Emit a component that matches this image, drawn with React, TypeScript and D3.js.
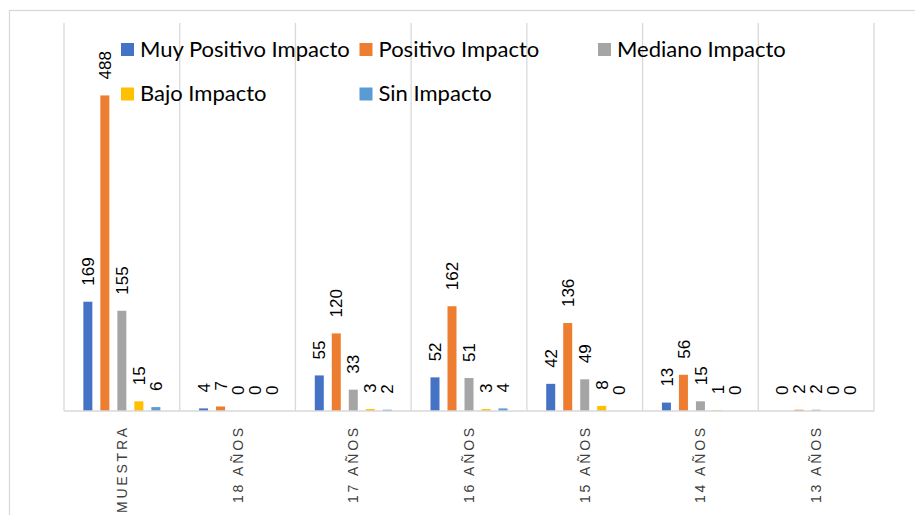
import React from "react";
import * as d3 from "d3";

const categories = ["MUESTRA", "18 AÑOS", "17 AÑOS", "16 AÑOS", "15 AÑOS", "14 AÑOS", "13 AÑOS"];
const seriesNames = ["Muy Positivo Impacto", "Positivo Impacto", "Mediano Impacto", "Bajo Impacto", "Sin Impacto"];
const seriesColors = ["#4472C4", "#ED7D31", "#A5A5A5", "#FFC000", "#5B9BD5"];
const muyPositivo = [169, 4, 55, 52, 42, 13, 0];
const positivo = [488, 7, 120, 162, 136, 56, 2];
const mediano = [155, 0, 33, 51, 49, 15, 2];
const bajo = [15, 0, 3, 3, 8, 1, 0];
const sinImpacto = [6, 0, 2, 4, 0, 0, 0];
const seriesValues = [muyPositivo, positivo, mediano, bajo, sinImpacto];

const W = 915;
const H = 515;
const plotLeft = 64;
const plotRight = 874;
const plotTop = 23;
const plotBottom = 411;
const grid = "#d9d9d9";

export default function App() {
  const x0 = d3.scaleBand<string>().domain(categories).range([plotLeft, plotRight]).padding(0);
  const groupW = 85;
  const x1 = d3
    .scaleBand<string>()
    .domain(seriesNames)
    .range([0, groupW])
    .paddingInner(8 / 17)
    .paddingOuter(4 / 17);
  const y = d3.scaleLinear().domain([0, 600]).range([plotBottom, plotTop]);

  const legendItems = seriesNames.map((name, i) => {
    const col = i < 3 ? i : i - 3;
    const row = i < 3 ? 0 : 1;
    return { name, color: seriesColors[i], x: 121 + col * 238.5, y: 43 + row * 44.5 };
  });

  return (
    <svg width={W} height={H} style={{ position: "absolute", left: 0, top: 0, background: "#fff" }}>
      <rect x={9.5} y={10.5} width={1000} height={1000} fill="#fff" stroke={grid} strokeWidth={1.3} />
      {/* vertical gridlines */}
      {categories.map((c) => (
        <line key={"g" + c} x1={x0(c)!} x2={x0(c)!} y1={plotTop} y2={plotBottom} stroke={grid} strokeWidth={1.3} />
      ))}
      <line x1={plotRight} x2={plotRight} y1={plotTop} y2={plotBottom} stroke={grid} strokeWidth={1.3} />
      {/* bars */}
      {categories.map((c, ci) => {
        const gx = x0(c)! + x0.bandwidth() / 2 - groupW / 2;
        return (
          <g key={"b" + c}>
            {seriesNames.map((s, si) => {
              const v = seriesValues[si][ci];
              const bx = gx + x1(s)!;
              const top = y(v);
              return <rect key={s} x={bx} y={top} width={x1.bandwidth()} height={plotBottom - top} fill={seriesColors[si]} />;
            })}
          </g>
        );
      })}
      {/* baseline */}
      <line x1={plotLeft} x2={plotRight} y1={plotBottom} y2={plotBottom} stroke={grid} strokeWidth={1.5} />
      {/* data labels */}
      {categories.map((c, ci) => {
        const gx = x0(c)! + x0.bandwidth() / 2 - groupW / 2;
        return (
          <g key={"l" + c}>
            {seriesNames.map((s, si) => {
              const v = seriesValues[si][ci];
              const cx = gx + x1(s)! + x1.bandwidth() / 2;
              const ty = y(v) - 16;
              return (
                <text
                  key={s}
                  transform={`translate(${cx},${ty}) rotate(-90)`}
                  dy="0.36em"
                  textAnchor="start"
                  fontFamily="Liberation Sans, Arial, sans-serif"
                  fontSize={17}
                  fill="#000"
                >
                  {v}
                </text>
              );
            })}
          </g>
        );
      })}
      {/* category labels */}
      {categories.map((c) => {
        const cx = x0(c)! + x0.bandwidth() / 2;
        return (
          <text
            key={"c" + c}
            transform={`translate(${cx},${425}) rotate(-90)`}
            dy="0.36em"
            textAnchor="end"
            fontFamily="Liberation Sans, Arial, sans-serif"
            fontSize={14}
            letterSpacing={2.8}
            fill="#404040"
          >
            {c}
          </text>
        );
      })}
      {/* legend */}
      {legendItems.map((it) => (
        <g key={it.name}>
          <rect x={it.x} y={it.y} width={13} height={13} fill={it.color} />
          <text x={it.x + 19} y={it.y + 13.5} fontFamily="Lato, sans-serif" fontSize={22} fill="#000">
            {it.name}
          </text>
        </g>
      ))}
    </svg>
  );
}
